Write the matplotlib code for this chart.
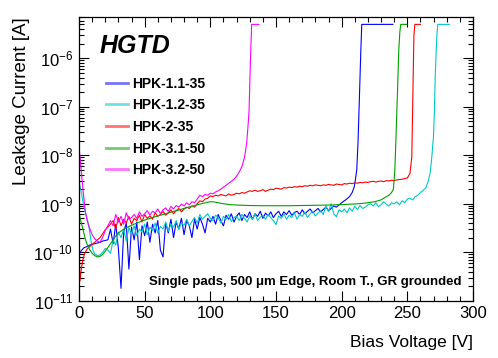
import numpy as np
import matplotlib
matplotlib.use("Agg")
import matplotlib.pyplot as plt
from matplotlib.ticker import MultipleLocator, LogLocator, NullFormatter

plt.rcParams['font.family'] = ['Liberation Sans', 'DejaVu Sans']
plt.rcParams['mathtext.fontset'] = 'custom'
plt.rcParams['mathtext.rm'] = 'Liberation Sans'

# ------------------------------------------------------------- #
# Data. Currents in pA, voltages in V.     #
# ------------------------------------------------------------- #
labels = ["HPK-1.1-35", "HPK-1.2-35", "HPK-2-35", "HPK-3.1-50", "HPK-3.2-50"]
colors = ["#0000ff", "#00c8c8", "#ff0000", "#00a000", "#ff00ff"]

blue_v = [0, 2, 4, 6, 8, 10, 12, 14, 16, 18, 20, 22] + list(range(24, 198, 2)) + \
         [200, 203, 206, 208, 209.5, 210.5, 211.5, 212.5, 213.5, 214.5, 215.3, 239]
blue_i = [90, 110, 125, 130, 140, 145, 150, 155, 160, 170, 175, 180,
          300, 150, 380, 120, 18, 260, 400, 45, 330, 180,
          420, 70, 350, 220, 420, 160, 380, 250, 450, 110,
          80, 400, 250, 480, 200, 420, 300, 500, 230, 450,
          350, 200, 480, 300, 520, 380, 250, 500, 420, 550,
          380, 600, 450, 350, 580, 480, 620, 420, 550, 650,
          450, 600, 520, 680, 480, 620, 550, 700, 500, 640,
          560, 680, 520, 620, 700, 550, 680, 600, 720, 580,
          660, 700, 600, 750, 620, 700, 780, 650, 720, 800,
          680, 760, 850, 720, 800, 900, 850,
          1050, 1200, 1400, 1700, 2200, 3200, 5000, 2e4, 1.5e5, 1.2e6, 5e6, 5e6]

cyan_v = [0, 1, 2, 3, 4, 5, 6, 7, 8, 9, 10, 11, 12, 14, 16, 18, 20] + list(range(22, 258, 2)) + \
         [258, 260, 262, 264, 266, 267.5, 268.6, 269.9, 270.6, 271.2, 272, 272.6, 273.2, 282]
cyan_i = [3000, 2200, 1600, 1100, 800, 650, 520, 400, 280, 180, 130, 105, 92, 85, 88, 100, 120,
          110, 95, 180, 140, 260, 200, 300, 170, 320, 240,
          350, 220, 300, 260, 380, 230, 330, 280, 400, 250,
          340, 300, 420, 270, 380, 330, 450, 300, 400, 360,
          480, 350, 430, 520, 400, 600, 480, 550, 620, 500,
          450, 580, 520, 400, 550, 480, 600, 430, 520, 560,
          450, 600, 500, 420, 560, 480, 620, 450, 530, 580,
          480, 600, 520, 450, 370, 560, 500, 620, 480, 580,
          520, 650, 480, 600, 550, 680, 520, 620, 700, 560,
          650, 720, 600, 900, 680, 1000, 620, 540, 750, 680,
          780, 650, 820, 700, 880, 760, 920, 800, 850, 950,
          1000, 900, 1050, 870, 950, 1100, 980, 900, 1050, 1000,
          1100, 950, 1150, 1050, 1250, 1300, 1200, 1400,
          1500, 1700, 1900, 2100, 3000, 4500, 9000, 2.4e4, 8e4, 4e5, 1.5e6, 3.3e6, 5e6, 5e6]

red_v = [0, 0.5, 1, 2, 3, 4, 6, 8, 10, 12, 14, 16, 18, 20, 22] + list(range(24, 250, 2)) + \
        [250, 252, 253.4, 254, 254.5, 255, 255.7, 260]
red_i = [5e4, 25, 30, 50, 70, 90, 115, 130, 145, 160, 180, 200, 240, 290, 330,
         380, 450, 300, 520, 350, 480, 400, 550, 380, 500,
         450, 580, 420, 600, 500, 560, 480, 650, 550, 600,
         700, 580, 650, 750, 620, 720, 800, 680, 780, 850,
         800, 900, 850, 1000, 1150, 1100, 1250, 1300, 1450, 1400,
         1500, 1450, 1550, 1500, 1450, 1600, 1500, 1550, 1650, 1600,
         1700, 1650, 1750, 1850, 1800, 1900, 1800, 1850, 1950, 1800,
         1900, 2000, 1950, 2100, 2050, 2000, 2150, 2100, 2200, 2150,
         2250, 2200, 2300, 2250, 2350, 2300, 2400, 2350, 2450, 2400,
         2350, 2450, 2400, 2500, 2450, 2400, 2550, 2500, 2450, 2600,
         2550, 2650, 2600, 2700, 2650, 2750, 2700, 2800, 2750, 2850,
         2900, 2800, 2900, 2950, 2850, 3000, 2950, 3050, 3000, 3100,
         3150, 3200, 3300,
         3400, 4200, 9300, 8.5e4, 6e5, 2.9e6, 5e6, 5e6]

green_v = [0, 1, 2, 3, 4, 5, 6, 8, 10, 12, 14, 16, 18, 20, 22, 24, 26, 28, 30,
           35, 40, 45, 50, 55, 60, 65, 70, 75, 80, 85, 90, 95, 100, 103, 106, 110, 115, 120,
           130, 140, 150, 160, 170, 180, 190, 200, 210, 215, 220, 225, 230, 233, 236, 238,
           239.4, 240.5, 241.5, 242.5, 243.5, 244.3, 245, 249.6]
green_i = [650, 500, 380, 300, 230, 180, 150, 115, 95, 85, 80, 82, 90, 105, 125, 150, 180, 215, 250,
           310, 360, 410, 460, 510, 560, 610, 670, 730, 800, 870, 950, 1030, 1100, 1090, 1050, 1000, 960, 940,
           920, 910, 910, 910, 920, 930, 940, 960, 990, 1010, 1050, 1100, 1200, 1350, 1500, 1700,
           2000, 5000, 3e4, 2e5, 1.5e6, 3.5e6, 5e6, 5e6]

mag_v = [0, 1, 2, 3, 4, 5, 6, 7, 8, 9, 10, 12, 14, 16, 18, 20, 22] + list(range(24, 110, 2)) + \
        [110, 112, 114, 116, 118, 120, 122, 124, 126, 127.7, 128.7, 129.5, 130.2, 130.8, 131.5, 137]
mag_i = [1.5e4, 8000, 4000, 2000, 1100, 650, 480, 380, 320, 270, 230, 190, 170, 160, 200, 280, 350,
         450, 350, 600, 420, 550, 380, 650, 480, 520, 600,
         500, 680, 550, 620, 720, 580, 700, 650, 780, 620,
         750, 820, 700, 880, 780, 920, 850, 980, 900, 1050,
         950, 1100, 1050, 1250, 1500, 1400, 1550, 1500, 1650, 1600,
         1750, 1850, 2000,
         2200, 2400, 2650, 2900, 3200, 3700, 4500, 5800, 9000, 1.8e4, 4e4, 8.5e4, 4.2e5, 1.5e6, 5e6, 5e6]

series_v = [blue_v, cyan_v, red_v, green_v, mag_v]
series_i = [blue_i, cyan_i, red_i, green_i, mag_i]

# ------------------#
#       PLOT        #
# ------------------#
fig = plt.figure(figsize=(4.98, 3.58), dpi=100)
ax = fig.add_axes([0.1586, 0.160, 0.7912, 0.7917])

for v, i, c, lab in zip(series_v, series_i, colors, labels):
    ax.plot(v, np.array(i) * 1e-12, color=c, lw=0.8, label=lab)

ax.set_yscale("log")
ax.set_xlim(0, 300)
ax.set_ylim(1e-11, 7e-6)

ax.xaxis.set_major_locator(MultipleLocator(50))
ax.xaxis.set_minor_locator(MultipleLocator(10))
ax.yaxis.set_major_locator(LogLocator(base=10, numticks=20))
ax.yaxis.set_minor_locator(LogLocator(base=10, subs=np.arange(2, 10), numticks=20))
ax.yaxis.set_minor_formatter(NullFormatter())
ax.tick_params(which="both", direction="in", top=True, right=True, labelsize=12, width=0.8)
ax.tick_params(which="major", length=7)
ax.tick_params(which="minor", length=3.5)
ax.tick_params(axis="y", pad=4)
ax.tick_params(axis="x", pad=4)
for s in ax.spines.values():
    s.set_linewidth(0.9)

ax.set_xlabel("Bias Voltage [V]", fontsize=12.5, loc="right")
ax.xaxis.set_label_coords(1.0, -0.12)
ax.set_ylabel("Leakage Current [A]", fontsize=13.5, loc="top")
ax.yaxis.set_label_coords(-0.125, 1.0)

ax.text(0.053, 0.942, "HGTD", transform=ax.transAxes, fontsize=18,
        fontweight="bold", fontstyle="italic", va="top", ha="left")
ax.text(0.971, 0.054, "Single pads, 500 \u03bcm Edge, Room T., GR grounded", transform=ax.transAxes,
        fontsize=9.5, fontweight="bold", ha="right", va="baseline")

leg = ax.legend(loc="upper left", bbox_to_anchor=(0.055, 0.81), frameon=False,
                prop={"weight": "bold", "size": 10}, handlelength=1.6, handletextpad=0.3,
                labelspacing=0.55, borderaxespad=0)
for h in leg.get_lines():
    h.set_linewidth(2)
    h.set_alpha(0.55)

fig.savefig("out.png", dpi=100)
